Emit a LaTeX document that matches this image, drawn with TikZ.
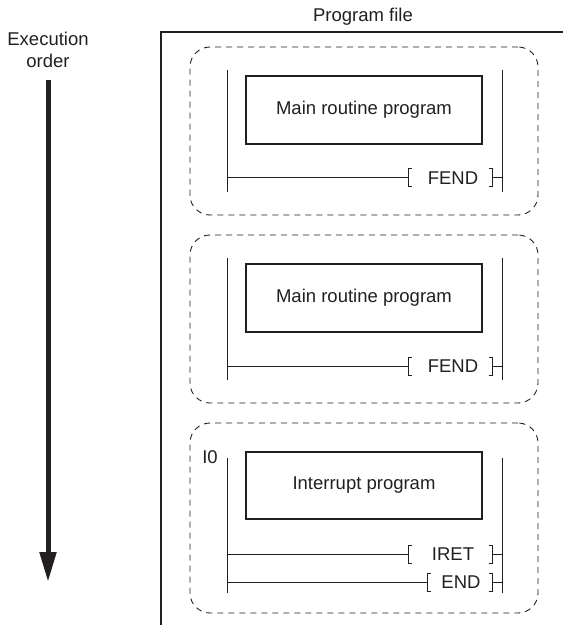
\documentclass[tikz,border=0pt]{standalone}
\usepackage{fontspec}
\setmainfont{Liberation Sans}
\usetikzlibrary{arrows.meta}
\definecolor{ink}{RGB}{35,31,32}
\begin{document}
\begin{tikzpicture}[x=1pt,y=-1pt,
  every node/.style={text=ink,font=\fontsize{18.5}{22}\selectfont,inner sep=0pt},
  frameline/.style={draw=ink,line width=1.2pt},
  grp/.style={draw=ink,line width=0.9pt,dash pattern=on 6pt off 5pt,rounded corners=20pt},
  rail/.style={draw=ink,line width=1pt},
  rung/.style={draw=ink,line width=1pt},
  brk/.style={draw=ink,line width=1pt},
  prog/.style={draw=ink,line width=1.2pt,minimum width=236pt,minimum height=68pt},
  flow/.style={draw=ink,line width=5pt,-{Triangle[width=16pt,length=30pt]}}]
\useasboundingbox (0,0) rectangle (563,628);

% execution order
\node[align=center] (exlbl) at (48,50) {Execution\\order};
\coordinate (arrtop) at (48,80);
\coordinate (arrtip) at (48,582);
\draw[flow] (arrtop) -- (arrtip);

% program file frame
\node (pflbl) at (363,17) {Program file};
\coordinate (fbot) at (161,625);
\coordinate (fcorner) at (161,32);
\coordinate (fright) at (563,32);
\draw[frameline] (fbot) -- (fcorner) -- (fright);

% block 1 and block 2
\foreach \i/\dy in {1/0,2/188}{
  \begin{scope}[yshift=-\dy pt]
    \node[grp,minimum width=348pt,minimum height=168pt] (g\i) at (364,131) {};
    \coordinate (lt\i) at (227,70);
    \coordinate (lb\i) at (227,192);
    \coordinate (rt\i) at (502,70);
    \coordinate (rb\i) at (502,192);
    \draw[rail] (lt\i) -- (lb\i);
    \draw[rail] (rt\i) -- (rb\i);
    \node[prog] (m\i) at (364,110) {Main routine program};
    \coordinate (fl\i) at (227,178);
    \coordinate (fa\i) at (408,178);
    \coordinate (fb\i) at (492,178);
    \coordinate (fr\i) at (502,178);
    \node (fend\i) at (453,178) {FEND};
    \draw[rung] (fl\i) -- (fa\i);
    \draw[brk] ([xshift=3.5pt,yshift=-9pt]fa\i) -- ([yshift=-9pt]fa\i) -- ([yshift=9pt]fa\i) -- ([xshift=3.5pt,yshift=9pt]fa\i);
    \draw[brk] ([xshift=-3.5pt,yshift=-9pt]fb\i) -- ([yshift=-9pt]fb\i) -- ([yshift=9pt]fb\i) -- ([xshift=-3.5pt,yshift=9pt]fb\i);
    \draw[rung] (fb\i) -- (fr\i);
  \end{scope}
}

% block 3
\node[grp,minimum width=348pt,minimum height=190pt] (g3) at (364,518) {};
\node (i0) at (210,457) {I0};
\coordinate (lt3) at (227,458);
\coordinate (lb3) at (227,593);
\coordinate (rt3) at (502,458);
\coordinate (rb3) at (502,593);
\draw[rail] (lt3) -- (lb3);
\draw[rail] (rt3) -- (rb3);
\node[prog,minimum height=67pt] (intp) at (364,485.5) {Interrupt program};

\coordinate (il) at (227,554);
\coordinate (ia) at (408,554);
\coordinate (ib) at (492,554);
\coordinate (ir) at (502,554);
\node (iret) at (453,554) {IRET};
\draw[rung] (il) -- (ia);
\draw[brk] ([xshift=3.5pt,yshift=-9pt]ia) -- ([yshift=-9pt]ia) -- ([yshift=9pt]ia) -- ([xshift=3.5pt,yshift=9pt]ia);
\draw[brk] ([xshift=-3.5pt,yshift=-9pt]ib) -- ([yshift=-9pt]ib) -- ([yshift=9pt]ib) -- ([xshift=-3.5pt,yshift=9pt]ib);
\draw[rung] (ib) -- (ir);

\coordinate (el) at (227,582);
\coordinate (ea) at (427,582);
\coordinate (eb) at (492,582);
\coordinate (er) at (502,582);
\node (endi) at (461,582) {END};
\draw[rung] (el) -- (ea);
\draw[brk] ([xshift=3.5pt,yshift=-9pt]ea) -- ([yshift=-9pt]ea) -- ([yshift=9pt]ea) -- ([xshift=3.5pt,yshift=9pt]ea);
\draw[brk] ([xshift=-3.5pt,yshift=-9pt]eb) -- ([yshift=-9pt]eb) -- ([yshift=9pt]eb) -- ([xshift=-3.5pt,yshift=9pt]eb);
\draw[rung] (eb) -- (er);
\end{tikzpicture}
\end{document}
